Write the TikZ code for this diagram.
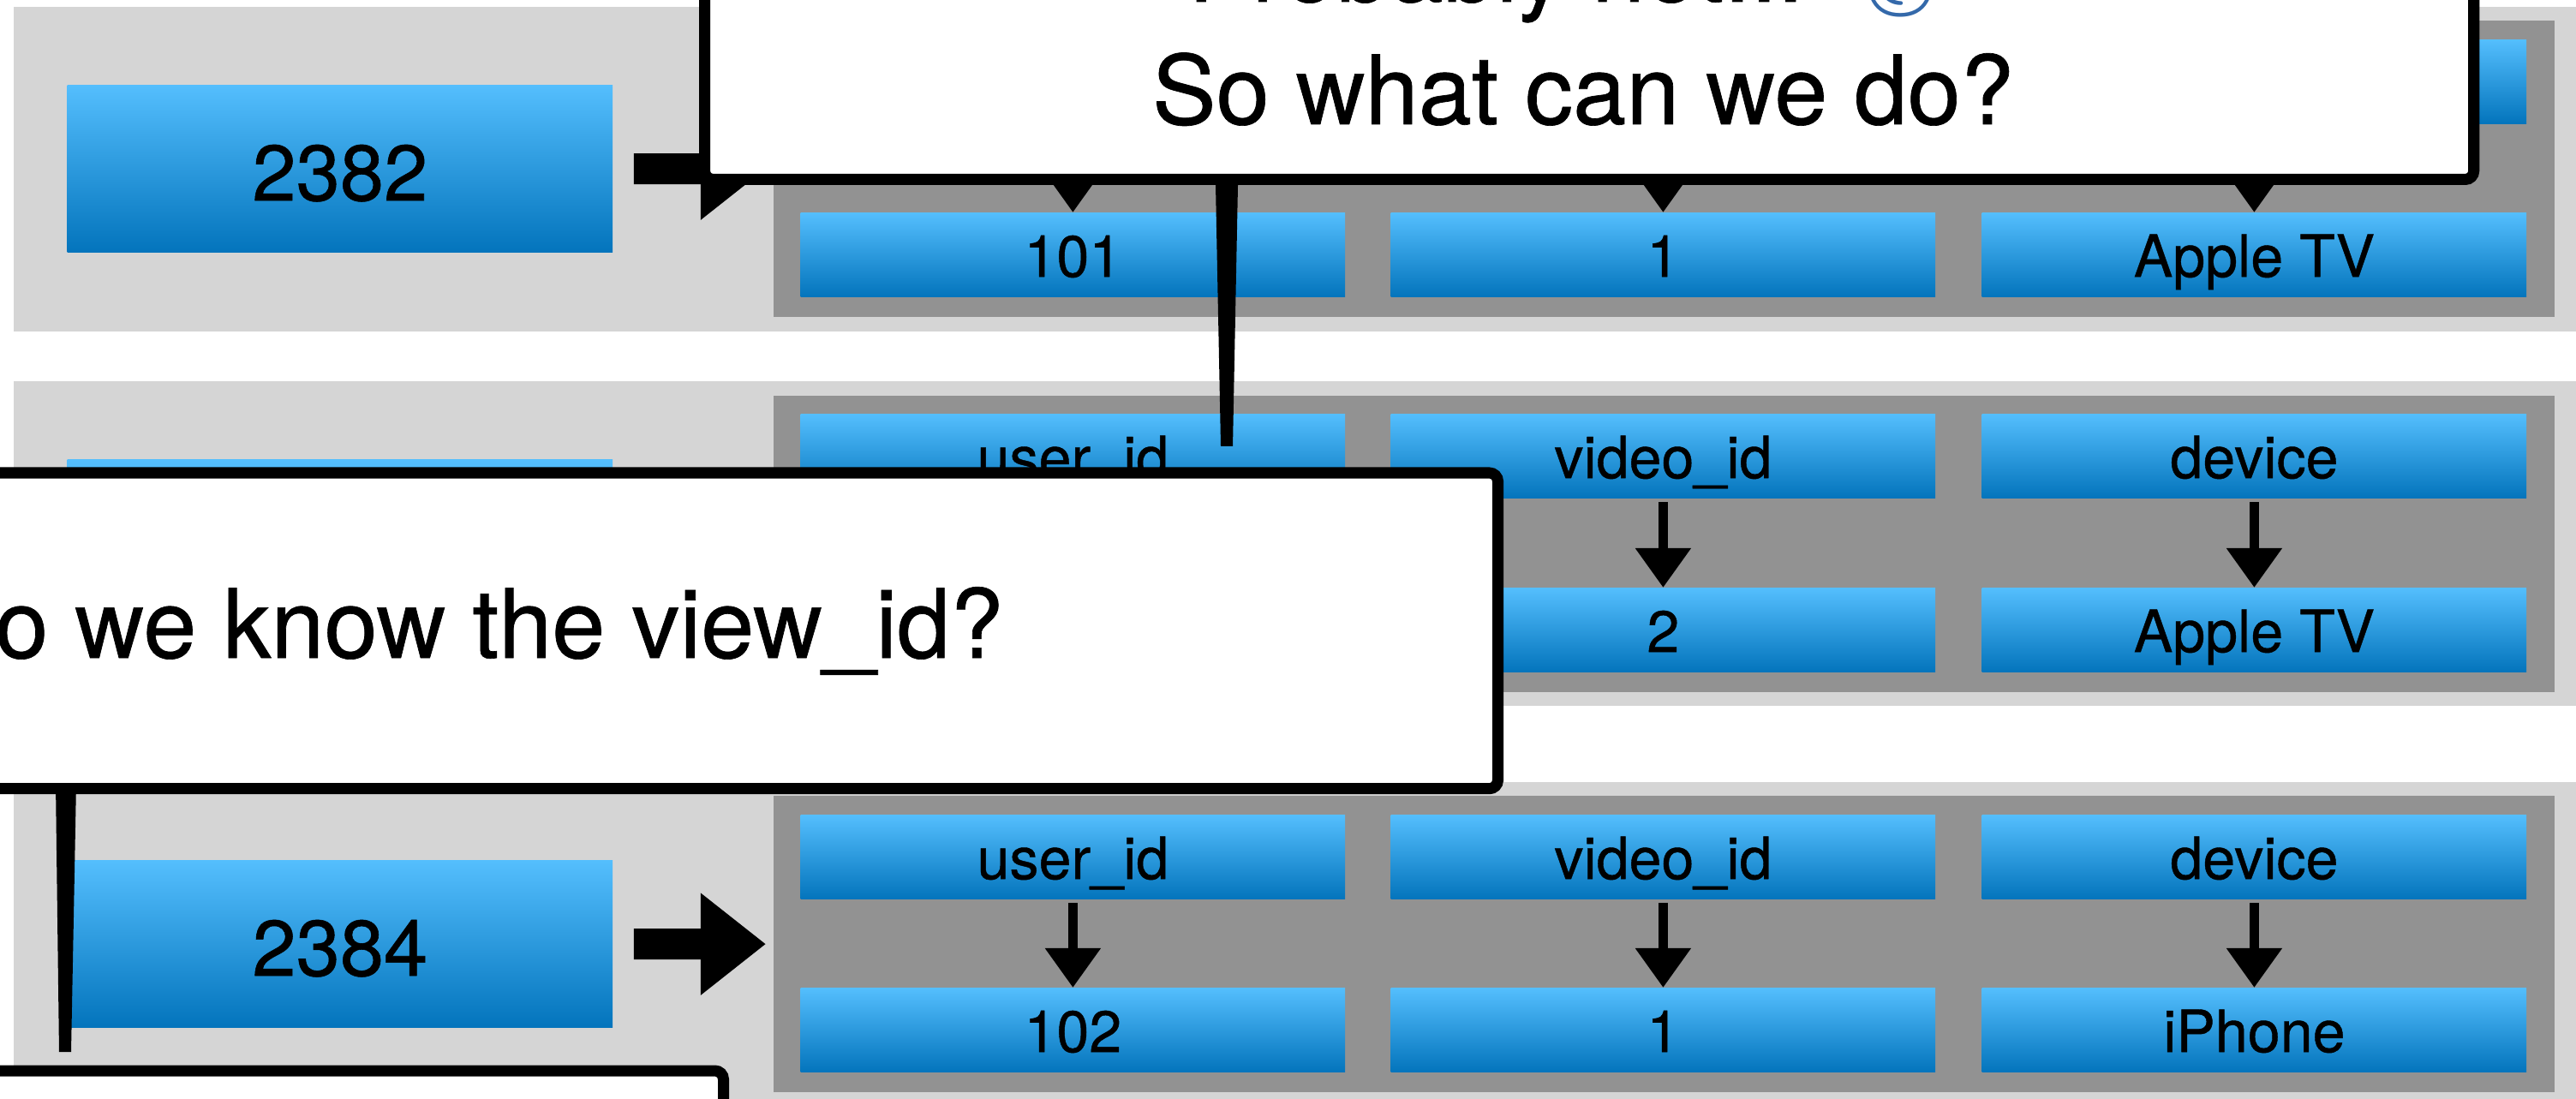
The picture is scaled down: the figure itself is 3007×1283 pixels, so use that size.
\documentclass[tikz,border=0pt]{standalone}
\usepackage{fontspec}
\setmainfont{TeX Gyre Heros}[FakeBold=0.6]
\newfontfamily\emojifont{Noto Emoji}
\usetikzlibrary{arrows.meta}

\definecolor{bandgray}{RGB}{213,213,213}
\definecolor{panelgray}{RGB}{146,146,146}
\definecolor{celltop}{RGB}{84,190,253}
\definecolor{cellbottom}{RGB}{3,116,188}
\definecolor{dropblue}{RGB}{52,105,170}

\newcommand{\cellsize}{\fontsize{19.4}{23}\selectfont}
\newcommand{\keysize}{\fontsize{26.2}{30}\selectfont}
\newcommand{\bubblesize}{\fontsize{31.8}{37}\selectfont}

\tikzset{
  rowband/.style={fill=bandgray, inner sep=0, anchor=north west,
    minimum width=29.92cm, minimum height=3.79cm},
  rowpanel/.style={fill=panelgray, inner sep=0, anchor=north west,
    minimum width=20.78cm, minimum height=3.46cm},
  cellbox/.style={top color=celltop, bottom color=cellbottom, inner sep=0,
    anchor=north west, minimum width=6.35cm, minimum height=0.98cm,
    font=\cellsize, text height=14.5pt, text depth=0pt},
  keycell/.style={cellbox, minimum width=6.36cm, minimum height=1.95cm,
    font=\keysize, text height=21pt},
  cellarrow/.style={-{Triangle[width=0.62cm,length=0.46cm]},
    line width=0.115cm, shorten <=0.04cm},
  keyarrow/.style={-{Triangle[width=1.14cm,length=0.76cm]},
    line width=0.36cm, shorten <=0.24cm, shorten >=0.08cm},
  bubble/.style={draw, line width=0.13cm, fill=white, rounded corners=0.1cm,
    inner sep=0},
  bubbletext/.style={font=\bubblesize, inner sep=0}
}

\begin{document}
\begin{tikzpicture}[x=0.01cm, y=-0.01cm]
  \useasboundingbox (0,0) rectangle (3007,1283);
  \clip (0,0) rectangle (3007,1283);
  \fill[white] (0,0) rectangle (3007,1283);

  % row 2382
  \node[rowband] (b1) at (15,7) {};
  \node[rowpanel] (p1) at (902,23) {};
  \node[keycell] (k1) at (78,99) {2382};
  \node[cellbox] (u1) at (934,46) {user\_id};
  \node[cellbox] (v1) at (1623,46) {video\_id};
  \node[cellbox] (d1) at (2313,46) {device};
  \node[cellbox] (uu1) at (934,248) {101};
  \node[cellbox] (vv1) at (1623,248) {1};
  \node[cellbox] (dd1) at (2313,248) {Apple TV};
  \draw[cellarrow] (u1) -- (uu1);
  \draw[cellarrow] (v1) -- (vv1);
  \draw[cellarrow] (d1) -- (dd1);
  \draw[keyarrow] (k1) -- (p1);

  % row 2383
  \node[rowband] (b2) at (15,444) {};
  \node[rowpanel] (p2) at (902,461) {};
  \node[keycell] (k2) at (78,536) {};
  \node[cellbox] (u2) at (934,483) {user\_id};
  \node[cellbox] (v2) at (1623,483) {video\_id};
  \node[cellbox] (d2) at (2313,483) {device};
  \node[cellbox] (vv2) at (1623,686) {2};
  \node[cellbox] (dd2) at (2313,686) {Apple TV};
  \draw[cellarrow] (v2) -- (vv2);
  \draw[cellarrow] (d2) -- (dd2);

  % row 2384
  \node[rowband] (b3) at (15,912) {};
  \node[rowpanel] (p3) at (902,928) {};
  \node[keycell] (k3) at (78,1004) {2384};
  \node[cellbox] (u3) at (934,951) {user\_id};
  \node[cellbox] (v3) at (1623,951) {video\_id};
  \node[cellbox] (d3) at (2313,951) {device};
  \node[cellbox] (uu3) at (934,1153) {102};
  \node[cellbox] (vv3) at (1623,1153) {1};
  \node[cellbox] (dd3) at (2313,1153) {iPhone};
  \draw[cellarrow] (u3) -- (uu3);
  \draw[cellarrow] (v3) -- (vv3);
  \draw[cellarrow] (d3) -- (dd3);
  \draw[keyarrow] (k3) -- (p3);

  % speech bubbles
  \node[bubble, anchor=south west, minimum width=20.64cm, minimum height=3.66cm]
    (q1) at (816,216) {};
  \coordinate (tip1) at (1432,521);
  \fill (1419,216) -- (1445,216) -- ([xshift=0.07cm]tip1) -- ([xshift=-0.07cm]tip1) -- cycle;
  \node[bubbletext, anchor=base] (l1) at (1838,2)
    {Probably not... {\emojifont\color{dropblue}💧}};
  \node[bubbletext, anchor=base] (l2) at (1848,145) {So what can we do?};

  \node[bubble, anchor=north east, minimum width=24.08cm, minimum height=3.685cm]
    (q2) at (1755,545.5) {};
  \coordinate (tip2) at (76,1228);
  \fill (65,914) -- (89,914) -- ([xshift=0.07cm]tip2) -- ([xshift=-0.07cm]tip2) -- cycle;
  \node[bubbletext, anchor=base east] (l3) at (1172,768) {Do we know the view\_id?};

  \node[bubble, anchor=north east, minimum width=20cm, minimum height=4cm]
    (q3) at (851,1243.5) {};
\end{tikzpicture}
\end{document}
